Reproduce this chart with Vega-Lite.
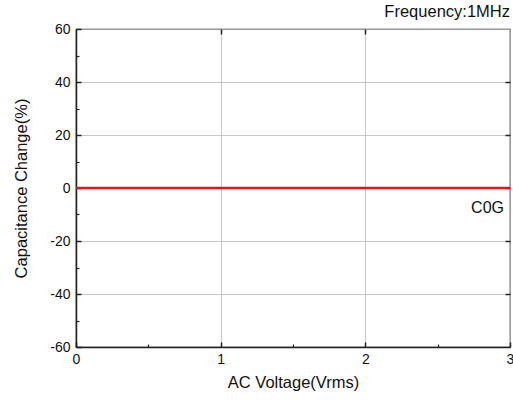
{
  "$schema": "https://vega.github.io/schema/vega-lite/v6.json",
  "width": 434,
  "height": 318,
  "autosize": {"type": "none"},
  "padding": {"left": 76, "top": 29, "right": 3, "bottom": 54},
  "background": "white",
  "config": {
    "view": {"stroke": "#222", "strokeWidth": 1.2},
    "font": "Liberation Sans",
    "axis": {"labelFont": "Liberation Sans", "titleFont": "Liberation Sans", "labelColor": "#111", "titleColor": "#111", "titleFontWeight": "normal", "domainColor": "#222", "tickColor": "#222"}
  },
  "title": {"text": "Frequency:1MHz", "anchor": "end", "frame": "group", "fontSize": 16.5, "fontWeight": "normal", "font": "Liberation Sans", "color": "#111", "offset": 2},
  "data": {"values": [
    {"v": 0, "c": 0, "label": ""},
    {"v": 3, "c": 0, "label": "C0G"}
  ]},
  "resolve": {"axis": {"x": "independent", "y": "independent"}},
  "layer": [
    {
      "mark": {"type": "line", "color": "#e8141c", "strokeWidth": 2.5, "clip": true},
      "encoding": {
        "x": {"field": "v", "type": "quantitative", "scale": {"domain": [0, 3], "nice": false, "zero": false},
          "axis": {"orient": "bottom", "values": [0, 1, 2, 3], "title": "AC Voltage(Vrms)", "titleFontSize": 16.5, "titlePadding": 8, "labelFontSize": 14, "labelPadding": 10, "tickSize": -5, "tickWidth": 1.5, "grid": true, "gridColor": "#b8b8b8", "gridWidth": 0.8, "domainWidth": 1.5, "labelExpr": "toString(datum.value)", "labelFlush": false}},
        "y": {"field": "c", "type": "quantitative", "scale": {"domain": [-60, 60], "nice": false},
          "axis": {"orient": "left", "values": [-60, -40, -20, 0, 20, 40, 60], "title": "Capacitance Change(%)", "titleFontSize": 16.5, "titlePadding": 20, "labelFontSize": 14, "labelPadding": 11, "tickSize": -5, "tickWidth": 1.5, "grid": true, "gridColor": "#b8b8b8", "gridWidth": 0.8, "domainWidth": 1.5, "labelExpr": "toString(datum.value)", "labelFlush": false}}
      }
    },
    {
      "mark": {"type": "text", "align": "right", "baseline": "middle", "dx": -6, "dy": 20, "fontSize": 16, "font": "Liberation Sans", "color": "#111"},
      "encoding": {
        "x": {"field": "v", "type": "quantitative", "scale": {"domain": [0, 3], "nice": false, "zero": false},
          "axis": {"orient": "bottom", "values": [0.5, 1.5, 2.5], "labels": false, "title": null, "tickSize": -3, "tickWidth": 1.2, "domain": false, "grid": false}},
        "y": {"field": "c", "type": "quantitative", "scale": {"domain": [-60, 60], "nice": false},
          "axis": {"orient": "left", "values": [-50, -30, -10, 10, 30, 50], "labels": false, "title": null, "tickSize": -3, "tickWidth": 1.2, "domain": false, "grid": false}},
        "text": {"field": "label"}
      }
    },
    {
      "mark": {"type": "point", "opacity": 0},
      "encoding": {
        "x": {"field": "v", "type": "quantitative", "scale": {"domain": [0, 3], "nice": false, "zero": false},
          "axis": {"orient": "top", "values": [1, 2], "labels": false, "title": null, "tickSize": -5, "tickWidth": 1.5, "domain": false, "grid": false}},
        "y": {"field": "c", "type": "quantitative", "scale": {"domain": [-60, 60], "nice": false},
          "axis": {"orient": "right", "values": [-40, -20, 0, 20, 40], "labels": false, "title": null, "tickSize": -5, "tickWidth": 1.5, "domain": false, "grid": false}}
      }
    }
  ]
}
